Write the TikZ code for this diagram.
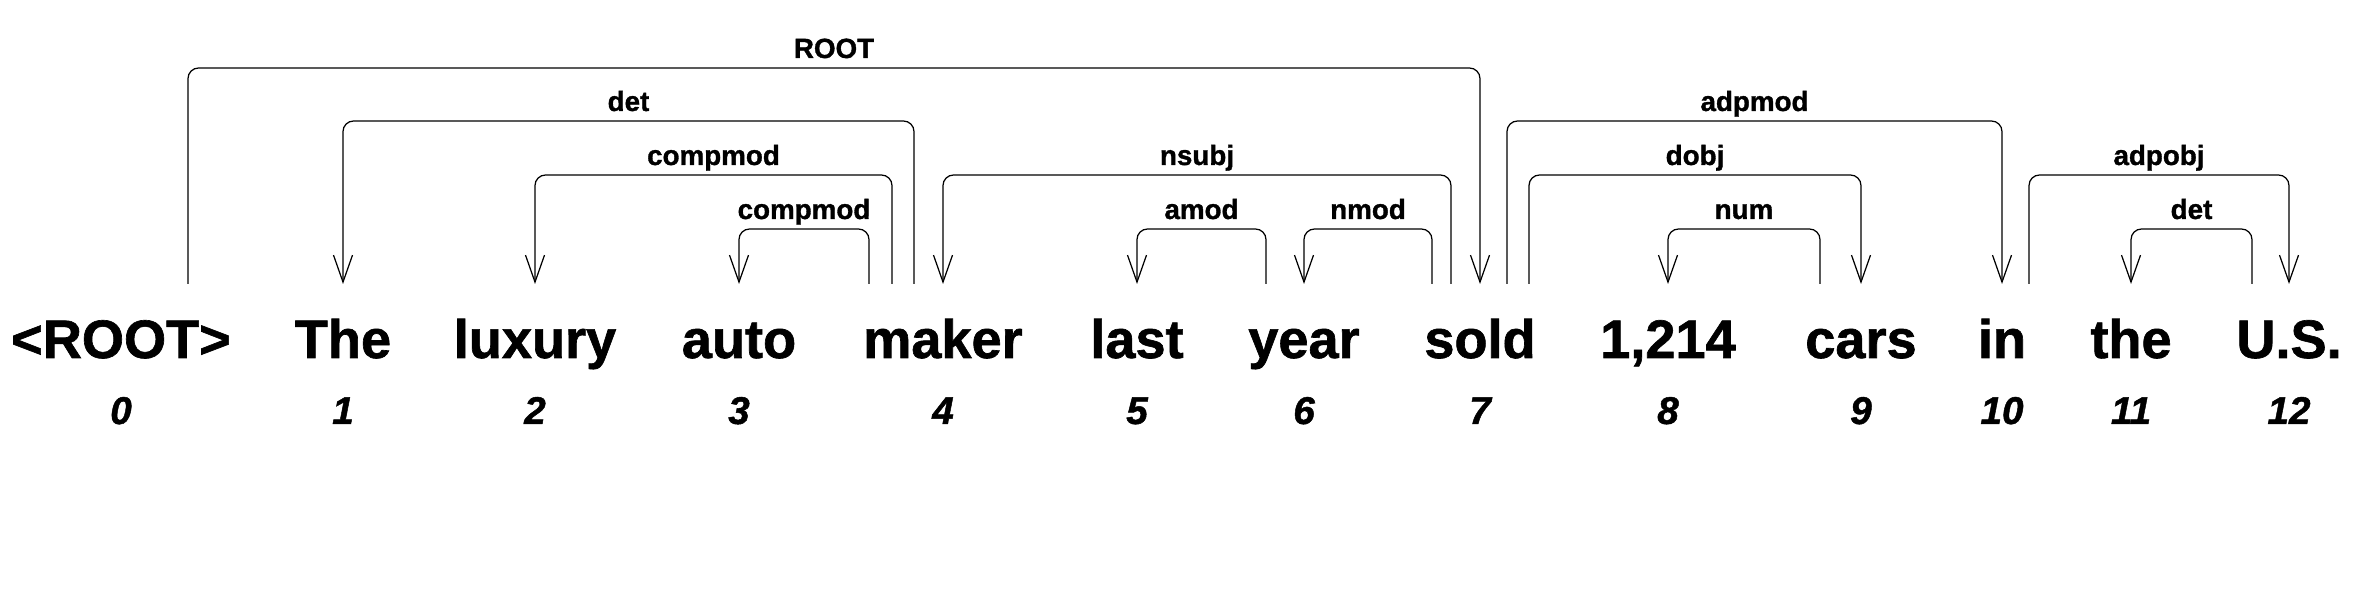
\documentclass[tikz,border=0pt]{standalone}
\usepackage{fontspec}
\setmainfont{Liberation Sans}[BoldFeatures={FakeBold=1.2},BoldItalicFeatures={FakeBold=1.2}]
\usepackage{tikz}
\usetikzlibrary{arrows.meta}

\begin{document}
\begin{tikzpicture}[
    word/.style={anchor=base,inner sep=0pt,font=\fontsize{15.4}{18}\selectfont\bfseries},
    idxlabel/.style={anchor=base,inner sep=0pt,font=\fontsize{11}{13}\selectfont\bfseries\itshape},
    rel/.style={anchor=base,inner sep=0pt,yshift=0.10cm,font=\fontsize{7.9}{9}\selectfont\bfseries},
    dep/.style={line width=0.35pt,rounded corners=3pt,-{Straight Barb[length=0.27cm,width=0.19cm]}}]
    \useasboundingbox (0,0) rectangle (23.78,5.90);
    \def\ft{0.74} \def\la{2.16} \def\lb{1.63} \def\lc{1.09} \def\ld{0.55}
    % tokens and their positions
    \foreach \x/\t [count=\i from 0] in {1.21/{<ROOT>},3.43/The,5.35/luxury,7.39/auto,9.43/maker,
        11.37/last,13.04/year,14.80/sold,16.68/{1,214},18.61/cars,20.02/in,21.31/the,22.89/U.S.}
        \node[word] (w\i) at (\x,2.32) {\t};
    \foreach \i in {0,...,12}
        \node[idxlabel] (n\i) at ([yshift=-0.66cm]w\i.base) {\i};
    % arcs, head -> dependent
    \draw[dep] ([xshift=0.67cm,yshift=\ft cm]w0.base) -- ++(0,\la) -| node[pos=0.25,rel] {ROOT} ([yshift=\ft cm]w7.base);
    \draw[dep] ([xshift=-0.29cm,yshift=\ft cm]w4.base) -- ++(0,\lb) -| node[pos=0.25,rel] {det} ([yshift=\ft cm]w1.base);
    \draw[dep] ([xshift=-0.51cm,yshift=\ft cm]w4.base) -- ++(0,\lc) -| node[pos=0.25,rel] {compmod} ([yshift=\ft cm]w2.base);
    \draw[dep] ([xshift=-0.74cm,yshift=\ft cm]w4.base) -- ++(0,\ld) -| node[pos=0.25,rel] {compmod} ([yshift=\ft cm]w3.base);
    \draw[dep] ([xshift=-0.29cm,yshift=\ft cm]w7.base) -- ++(0,\lc) -| node[pos=0.25,rel] {nsubj} ([yshift=\ft cm]w4.base);
    \draw[dep] ([xshift=-0.38cm,yshift=\ft cm]w6.base) -- ++(0,\ld) -| node[pos=0.25,rel] {amod} ([yshift=\ft cm]w5.base);
    \draw[dep] ([xshift=-0.48cm,yshift=\ft cm]w7.base) -- ++(0,\ld) -| node[pos=0.25,rel] {nmod} ([yshift=\ft cm]w6.base);
    \draw[dep] ([xshift=0.27cm,yshift=\ft cm]w7.base) -- ++(0,\lb) -| node[pos=0.25,rel] {adpmod} ([yshift=\ft cm]w10.base);
    \draw[dep] ([xshift=0.49cm,yshift=\ft cm]w7.base) -- ++(0,\lc) -| node[pos=0.25,rel] {dobj} ([yshift=\ft cm]w9.base);
    \draw[dep] ([xshift=-0.41cm,yshift=\ft cm]w9.base) -- ++(0,\ld) -| node[pos=0.25,rel] {num} ([yshift=\ft cm]w8.base);
    \draw[dep] ([xshift=0.27cm,yshift=\ft cm]w10.base) -- ++(0,\lc) -| node[pos=0.25,rel] {adpobj} ([yshift=\ft cm]w12.base);
    \draw[dep] ([xshift=-0.37cm,yshift=\ft cm]w12.base) -- ++(0,\ld) -| node[pos=0.25,rel] {det} ([yshift=\ft cm]w11.base);
\end{tikzpicture}
\end{document}
